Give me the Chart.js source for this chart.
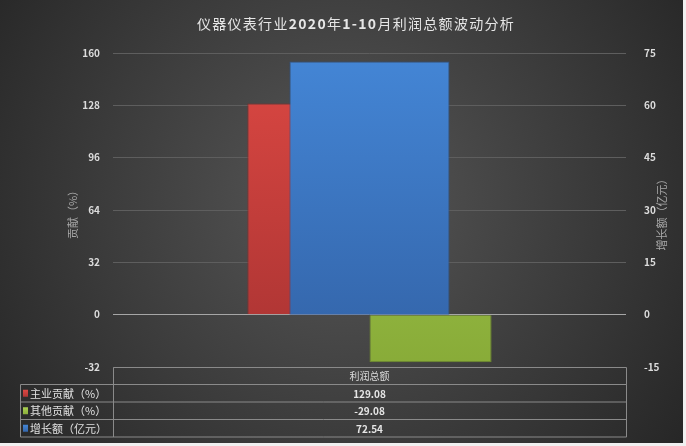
<!DOCTYPE html>
<html>
<head>
<meta charset="utf-8">
<script src="https://cdn.jsdelivr.net/npm/chart.js@4.4.0/dist/chart.umd.min.js"></script>
<style>
  html, body { margin: 0; padding: 0; background: #f0f0f0; }
  #wrap { width: 683px; height: 443px; position: relative; }
</style>
</head>
<body>
<div id="wrap"><canvas id="profitChart"></canvas></div>
<script>
// data
const chartTitle = '仪器仪表行业2020年1-10月利润总额波动分析';
const categories = ['利润总额'];
const seriesNames = ['主业贡献（%）', '其他贡献（%）', '增长额（亿元）'];
const mainContribution = [129.08];
const otherContribution = [-29.08];
const growthAmount = [72.54];
const leftTicks = [-32, 0, 32, 64, 96, 128, 160];
const rightTicks = [-15, 0, 15, 30, 45, 60, 75];
const leftAxisTitle = '贡献（%）';
const rightAxisTitle = '增长额（亿元）';

const FONT = '"Noto Sans CJK SC", "Noto Sans", sans-serif';

// bar fills: [top, bottom]
const barColors = [
    ['#dc4843', '#a93332'],
    ['#a9d052', '#88ab38'],
    ['#4486d6', '#3262a6']
];

function barFill(idx) {
    return function (ctx) {
        const area = ctx.chart.chartArea;
        if (!area) return barColors[idx][0];
        const g = ctx.chart.ctx.createLinearGradient(0, area.top, 0, area.bottom);
        g.addColorStop(0, barColors[idx][0]);
        g.addColorStop(1, barColors[idx][1]);
        return g;
    };
}

const bgPlugin = {
    id: 'bg',
    beforeDraw(chart) {
        const c = chart.ctx;
        const w = chart.width, h = chart.height;
        const g = c.createRadialGradient(w * 0.5, h * 0.45, 10, w * 0.5, h * 0.45, w * 0.62);
        g.addColorStop(0, '#565656');
        g.addColorStop(1, '#262626');
        c.save();
        c.fillStyle = g;
        c.fillRect(0, 0, w, h);
        c.restore();
    }
};

// title with the digits in bold, like the original
function drawTitle(c, text, cx, cy) {
    const runs = text.match(/[0-9\-]+|[^0-9\-]+/g);
    const fontFor = r => (/^[0-9\-]+$/.test(r) ? 'bold 14px ' : '14px ') + FONT;
    const spacing = 1.3;
    let total = 0;
    runs.forEach(r => {
        c.font = fontFor(r);
        total += c.measureText(r).width + spacing * r.length;
    });
    let x = cx - total / 2;
    c.textAlign = 'left';
    runs.forEach(r => {
        c.font = fontFor(r);
        if ('letterSpacing' in c) c.letterSpacing = spacing + 'px';
        c.fillText(r, x, cy);
        x += c.measureText(r).width + ('letterSpacing' in c ? 0 : spacing * r.length);
    });
    if ('letterSpacing' in c) c.letterSpacing = '0px';
}

const decorPlugin = {
    id: 'decor',
    afterDraw(chart) {
        const c = chart.ctx;
        const area = chart.chartArea;
        c.save();
        c.fillStyle = '#e6e6e6';
        c.textBaseline = 'middle';
        drawTitle(c, chartTitle, 356, 24);

        // axis titles
        const midY = (area.top + area.bottom) / 2 + 2;
        c.textAlign = 'center';
        c.fillStyle = '#a8a8a8';
        c.font = '11px ' + FONT;
        c.save();
        c.translate(73, midY);
        c.rotate(-Math.PI / 2);
        c.fillText(leftAxisTitle, 0, 0);
        c.restore();
        c.save();
        c.translate(662, midY);
        c.rotate(-Math.PI / 2);
        c.fillText(rightAxisTitle, 0, 0);
        c.restore();

        // data table
        const x0 = 20, x1 = area.left, x2 = area.right;
        const top = area.bottom;
        const rowH = [17, 17.5, 17.5, 17.5];
        const ys = [top];
        rowH.forEach(r => ys.push(ys[ys.length - 1] + r));
        c.strokeStyle = '#8a8a8a';
        c.lineWidth = 1;
        c.beginPath();
        c.rect(x1 + 0.5, ys[0] + 0.5, x2 - x1, rowH[0]);
        for (let i = 1; i < ys.length; i++) {
            c.moveTo(x0 + 0.5, ys[i] + 0.5);
            c.lineTo(x2 + 0.5, ys[i] + 0.5);
        }
        c.moveTo(x0 + 0.5, ys[1] + 0.5);
        c.lineTo(x0 + 0.5, ys[4] + 0.5);
        c.moveTo(x1 + 0.5, ys[1] + 0.5);
        c.lineTo(x1 + 0.5, ys[4] + 0.5);
        c.moveTo(x2 + 0.5, ys[1] + 0.5);
        c.lineTo(x2 + 0.5, ys[4] + 0.5);
        c.stroke();

        const cx = chart.scales.x.getPixelForValue(0);
        c.fillStyle = '#dcdcdc';
        c.font = '10px ' + FONT;
        c.textAlign = 'center';
        c.fillText(categories[0], cx, (ys[0] + ys[1]) / 2 + 1);
        const values = [mainContribution[0], otherContribution[0], growthAmount[0]];
        values.forEach((v, i) => {
            const my = (ys[i + 1] + ys[i + 2]) / 2 + 1;
            c.textAlign = 'center';
            c.fillStyle = '#e6e6e6';
            c.font = 'bold 10px ' + FONT;
            c.fillText(v.toFixed(2), cx, my);
            const sg = c.createLinearGradient(0, my - 4, 0, my + 4);
            sg.addColorStop(0, barColors[i][0]);
            sg.addColorStop(1, barColors[i][1]);
            c.fillStyle = sg;
            c.fillRect(23, my - 4, 5, 7);
            c.textAlign = 'left';
            c.fillStyle = '#e0e0e0';
            c.font = '11px ' + FONT;
            c.fillText(seriesNames[i], 30, my);
        });
        c.restore();
    }
};

function loadChart() {
    const ctx = document.getElementById('profitChart').getContext('2d');
    new Chart(ctx, {
        type: 'bar',
        data: {
            labels: categories,
            datasets: [{
                label: seriesNames[0],
                data: mainContribution,
                backgroundColor: barFill(0),
                borderColor: '#8e2a28',
                borderWidth: 1,
                yAxisID: 'y',
                categoryPercentage: 0.476,
                barPercentage: 1,
                order: 1
            }, {
                label: seriesNames[1],
                data: otherContribution,
                backgroundColor: barFill(1),
                borderColor: '#6f8d2c',
                borderWidth: 1,
                yAxisID: 'y',
                categoryPercentage: 0.476,
                barPercentage: 1,
                order: 1
            }, {
                // secondary axis bar, centred over the category and drawn in front
                label: seriesNames[2],
                data: growthAmount,
                backgroundColor: barFill(2),
                borderColor: '#2a5590',
                borderWidth: 1,
                yAxisID: 'y2',
                grouped: false,
                categoryPercentage: 0.312,
                barPercentage: 1,
                order: 0
            }]
        },
        options: {
            responsive: true,
            maintainAspectRatio: false,
            animation: false,
            layout: { padding: { top: 53, bottom: 76, left: 0, right: 0 } },
            plugins: {
                legend: { display: false },
                title: { display: false },
                tooltip: { enabled: false }
            },
            scales: {
                x: { display: false, offset: true },
                y: {
                    position: 'left',
                    min: -32,
                    max: 160,
                    afterFit(s) { s.width = 113; },
                    afterBuildTicks(s) { s.ticks = leftTicks.map(v => ({ value: v })); },
                    border: { display: false },
                    grid: {
                        drawTicks: false,
                        color: c => c.tick && c.tick.value === 0 ? '#a6a6a6' : '#5e5e5e'
                    },
                    ticks: {
                        padding: 13,
                        color: '#dcdcdc',
                        font: { family: FONT, size: 10, weight: 'bold' }
                    }
                },
                y2: {
                    position: 'right',
                    min: -15,
                    max: 75,
                    afterFit(s) { s.width = 57; },
                    afterBuildTicks(s) { s.ticks = rightTicks.map(v => ({ value: v })); },
                    border: { display: false },
                    grid: { display: false },
                    ticks: {
                        padding: 10,
                        color: '#dcdcdc',
                        font: { family: FONT, size: 10, weight: 'bold' }
                    }
                }
            }
        },
        plugins: [bgPlugin, decorPlugin]
    });
}

document.addEventListener('DOMContentLoaded', loadChart);
</script>
</body>
</html>
